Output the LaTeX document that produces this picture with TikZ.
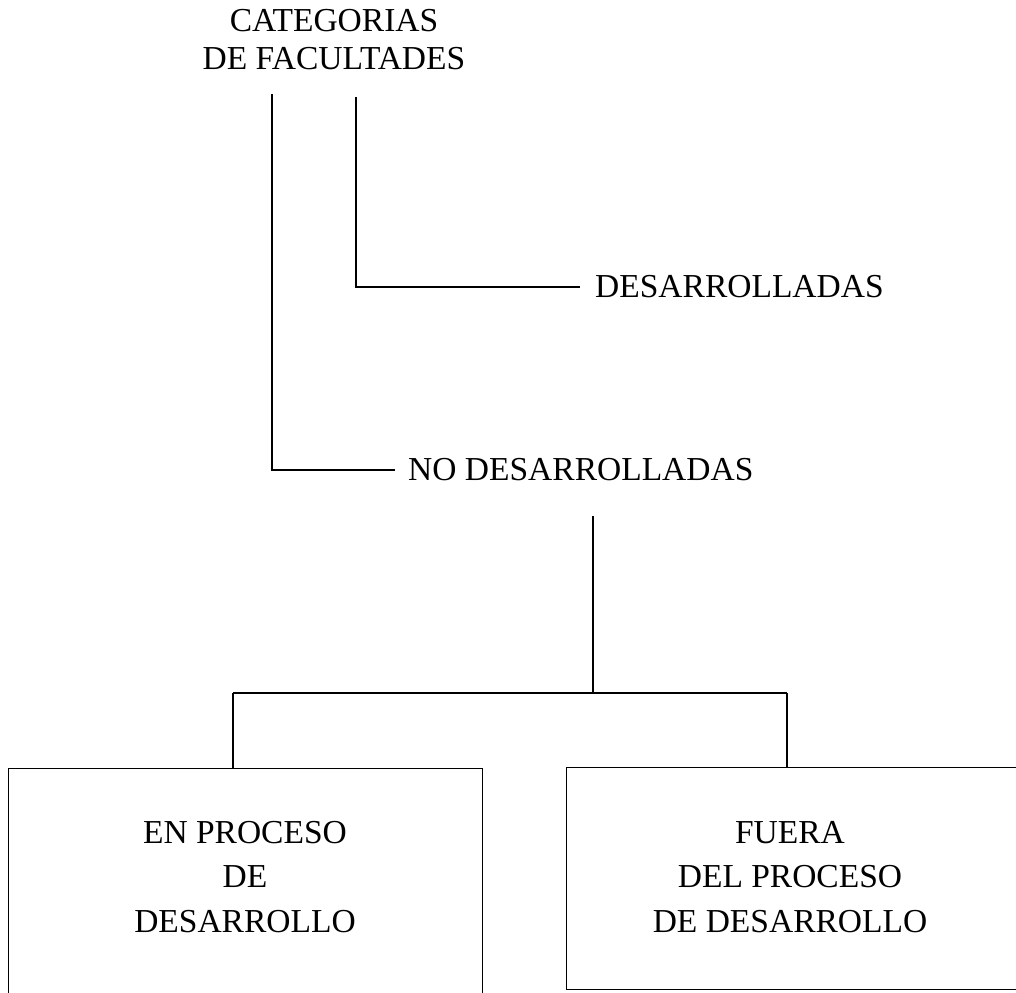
\documentclass[tikz,border=0pt]{standalone}
\usepackage{fontspec}
\setmainfont{Liberation Serif}
\usetikzlibrary{calc}
\begin{document}
\begin{tikzpicture}[x=1pt,y=-1pt,
  lbl/.style={inner sep=0pt, align=center, font=\fontsize{33.5}{38}\selectfont},
  boxlbl/.style={inner sep=0pt, align=center, font=\fontsize{33.5}{44.5}\selectfont},
  frame/.style={draw, line width=1.2pt, inner sep=0pt},
  conn/.style={line width=1.2pt}]
\useasboundingbox (0,0) rectangle (1016,992);
\clip (0,0) rectangle (1016,992);
% text nodes
\node[lbl] (cat) at (334,39.5) {CATEGORIAS\\DE FACULTADES};
\node[lbl, anchor=west] (des) at (595,287) {DESARROLLADAS};
\node[lbl, anchor=west] (no) at (408,470) {NO DESARROLLADAS};
% boxes
\node[frame, anchor=north west, minimum width=474, minimum height=260] (bl) at (8,768) {};
\node[frame, anchor=north west, minimum width=480, minimum height=222] (br) at (566,767) {};
\node[boxlbl] (tl) at (245,877) {EN PROCESO\\DE\\DESARROLLO};
\node[boxlbl] (tr) at (790,877) {FUERA\\DEL PROCESO\\DE DESARROLLO};
% connector points
\coordinate (c1) at (272,94);
\coordinate (c2) at (356,97);
\coordinate (j) at (593,693);
\coordinate (jl) at (233,693);
\coordinate (jr) at (787,693);
% connectors
\draw[conn] (c1) |- ([xshift=-13pt]no.west);
\draw[conn] (c2) |- ([xshift=-15pt]des.west);
\draw[conn] ([yshift=-35pt]no.south -| j) -- (j);
\draw[conn] (jl) -- (jr);
\draw[conn] (jl) -- (jl |- bl.north);
\draw[conn] (jr) -- (jr |- br.north);
\end{tikzpicture}
\end{document}
